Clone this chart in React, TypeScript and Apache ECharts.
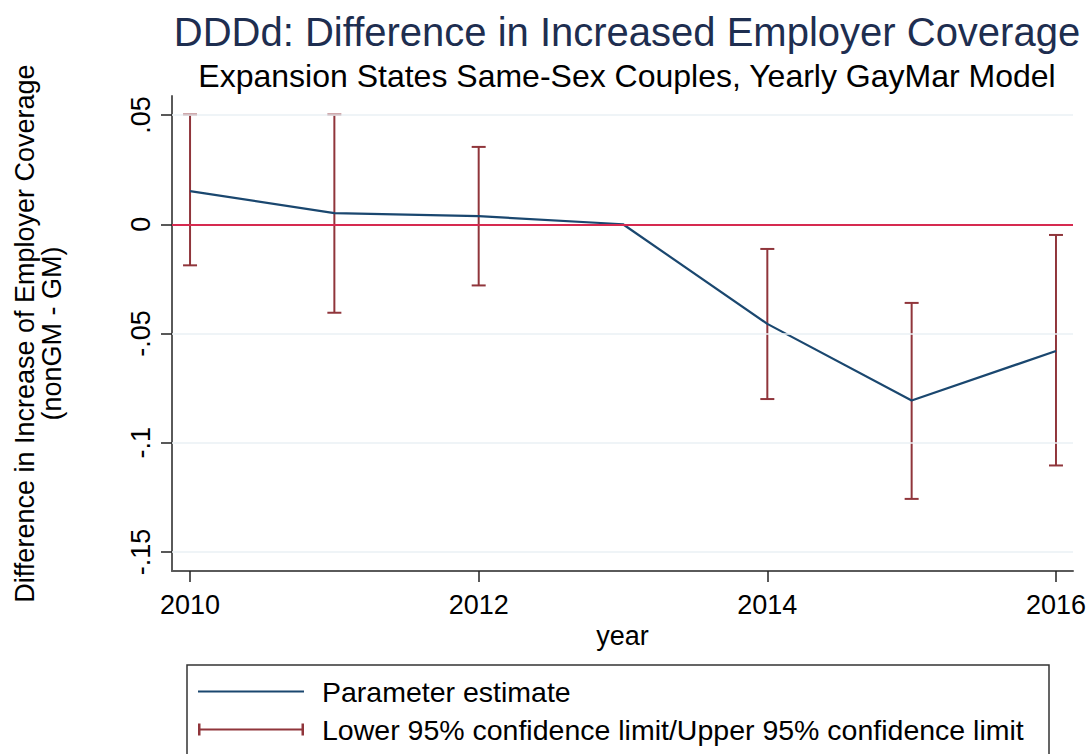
import React, { useEffect, useRef } from "react";
import * as echarts from "echarts";

const years = [2010, 2011, 2012, 2013, 2014, 2015, 2016];
const estimate = [0.0152, 0.0051, 0.0037, 0, -0.0456, -0.0807, -0.058];
const ciYears = [2010, 2011, 2012, 2014, 2015, 2016];
const ciLower = [-0.0188, -0.0405, -0.028, -0.08, -0.1257, -0.1104];
const ciUpper = [0.0502, 0.0502, 0.0354, -0.0113, -0.036, -0.0049];
const xTicks = [2010, 2012, 2014, 2016];
const yTicks = [-0.15, -0.1, -0.05, 0, 0.05];
const gridYs = [0.05, -0.05, -0.1, -0.15];

const FONT = "'Liberation Sans', Arial, sans-serif";
const NAVY = "#1a476f";
const MAROON = "#90353b";

export default function App() {
  const ref = useRef<HTMLDivElement>(null);
  useEffect(() => {
    if (!ref.current) return;
    const chart = echarts.init(ref.current, null, { renderer: "svg" });
    const lineData = years.map((y, i) => [y, estimate[i]]);
    const ciData = ciYears.map((y, i) => [y, ciLower[i], ciUpper[i]]);
    const fmt = (v: number) => {
      if (v === 0) return "0";
      const s = String(Math.round(v * 1000) / 1000);
      return s.replace("0.", ".");
    };
    chart.setOption({
      animation: false,
      backgroundColor: "#ffffff",
      textStyle: { fontFamily: FONT },
      title: [
        {
          text: "DDDd: Difference in Increased Employer Coverage",
          left: 622,
          top: 7,
          textAlign: "center",
          textStyle: { fontFamily: FONT, fontSize: 40, fontWeight: "normal", color: "#1e2e50" },
        },
        {
          text: "Expansion States Same-Sex Couples, Yearly GayMar Model",
          left: 622,
          top: 55,
          textAlign: "center",
          textStyle: { fontFamily: FONT, fontSize: 32, fontWeight: "normal", color: "#000000" },
        },
      ],
      grid: { left: 172, top: 96, right: 19, bottom: 183, containLabel: false },
      xAxis: {
        type: "value",
        min: 2009.875,
        max: 2016.118,
        name: "year",
        nameLocation: "middle",
        nameGap: 44,
        nameTextStyle: { fontFamily: FONT, fontSize: 27, color: "#000" },
        axisLine: { show: true, onZero: false, lineStyle: { color: "#5a5a5a", width: 2 } },
        axisTick: { show: true, length: 11, customValues: xTicks, lineStyle: { color: "#222", width: 1.5 } },
        axisLabel: {
          customValues: xTicks,
          margin: 20,
          fontFamily: FONT,
          fontSize: 27,
          color: "#000",
          formatter: (v: number) => String(v),
        },
        splitLine: { show: false },
      },
      yAxis: {
        type: "value",
        min: -0.1587,
        max: 0.0587,
        name: "Difference in Increase of Employer Coverage\n(nonGM - GM)",
        nameLocation: "middle",
        nameRotate: 90,
        nameGap: 107,
        nameTextStyle: { fontFamily: FONT, fontSize: 27, lineHeight: 27, color: "#000", align: "center" },
        axisLine: { show: true, onZero: false, lineStyle: { color: "#5a5a5a", width: 2 } },
        axisTick: { show: true, length: 11, customValues: yTicks, lineStyle: { color: "#222", width: 1.5 } },
        axisLabel: {
          customValues: yTicks,
          rotate: 90,
          margin: 18,
          fontFamily: FONT,
          fontSize: 27,
          color: "#000",
          formatter: fmt,
        },
        splitLine: { show: false },
      },
      legend: {
        orient: "vertical",
        left: 198,
        top: 677,
        padding: 0,
        itemWidth: 106,
        itemHeight: 12,
        itemGap: 9,
        textStyle: { fontFamily: FONT, fontSize: 28.5, color: "#000", padding: [0, 0, 0, 13] },
        data: [
          {
            name: "Parameter estimate",
            icon: "path://M0,0h0.01v0.01h-0.01z M0,4.9h106v2.2h-106z M0,11.99h0.01v0.01h-0.01z",
          },
          {
            name: "Lower 95% confidence limit/Upper 95% confidence limit",
            icon: "path://M0,0h2.5v12h-2.5z M0,4.9h106v2.2h-106z M103.5,0h2.5v12h-2.5z",
          },
        ],
      },
      graphic: [
        {
          type: "rect",
          shape: { x: 187, y: 665, width: 862, height: 140 },
          style: { fill: "none", stroke: "#333", lineWidth: 1.5 },
          silent: true,
          z: 0,
        },
      ],
      series: [
        {
          name: "Parameter estimate",
          type: "line",
          data: lineData,
          symbol: "none",
          lineStyle: { color: NAVY, width: 2.2 },
          itemStyle: { color: NAVY },
          z: 4,
          markLine: {
            silent: true,
            symbol: "none",
            label: { show: false },
            data: [
              ...gridYs.map((g) => ({ yAxis: g, lineStyle: { color: "#eaf1f4", width: 1.5, type: "solid" } })),
              { yAxis: 0, lineStyle: { color: "#d62a50", width: 2, type: "solid" } },
            ],
          },
        },
        {
          name: "Lower 95% confidence limit/Upper 95% confidence limit",
          type: "custom",
          data: ciData,
          itemStyle: { color: MAROON },
          z: 3,
          encode: { x: 0, y: [1, 2] },
          renderItem: (params: any, api: any) => {
            const x = api.value(0);
            const lo = api.coord([x, api.value(1)]);
            const hi = api.coord([x, api.value(2)]);
            const half = 7;
            const style = { stroke: MAROON, lineWidth: 2, fill: "none" };
            return {
              type: "group",
              children: [
                { type: "line", shape: { x1: lo[0], y1: lo[1], x2: hi[0], y2: hi[1] }, style },
                { type: "line", shape: { x1: lo[0] - half, y1: lo[1], x2: lo[0] + half, y2: lo[1] }, style },
                { type: "line", shape: { x1: hi[0] - half, y1: hi[1], x2: hi[0] + half, y2: hi[1] }, style },
              ],
            };
          },
        },
      ],
    });
    return () => chart.dispose();
  }, []);
  return <div ref={ref} style={{ width: 1092, height: 754, position: "absolute", left: 0, top: 0 }} />;
}
